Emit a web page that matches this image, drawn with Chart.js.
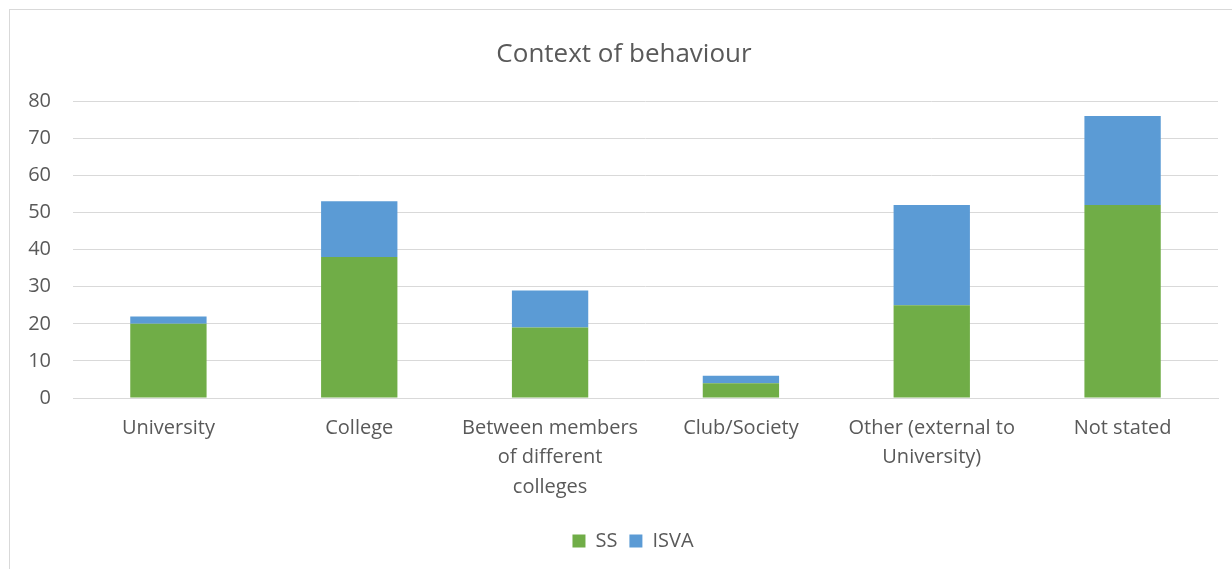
<!DOCTYPE html>
<html>
<head>
<meta charset="utf-8">
<script src="https://cdn.jsdelivr.net/npm/chart.js@4"></script>
<style>
  body { margin: 0; background: #fff; }
  #wrap { position: relative; width: 1232px; height: 569px; }
  #frame { position: absolute; left: 9px; top: 9px; width: 1240px; height: 600px; border: 1px solid #d9d9d9; }
  canvas { position: absolute; left: 0; top: 0; }
</style>
</head>
<body>
<div id="wrap">
  <div id="frame"></div>
  <canvas id="myChart" width="1232" height="569"></canvas>
</div>
<script>
const categories = [
  "University",
  "College",
  ["Between members", "of different", "colleges"],
  "Club/Society",
  ["Other (external to", "University)"],
  "Not stated"
];
const ssValues = [20, 38, 19, 4, 25, 52];
const isvaValues = [2, 15, 10, 2, 27, 24];
const yTicks = [0, 10, 20, 30, 40, 50, 60, 70, 80];

const textColor = "#595959";
const gridColor = "#d9d9d9";
const fontFamily = "'Open Sans', sans-serif";

// title and legend are centred on the outer frame, which runs past the plot's right edge
const centreOnFrame = {
  id: "centreOnFrame",
  afterLayout(chart) {
    chart.titleBlock.right += 30;
    chart.legend.right += 48;
  }
};

const ctx = document.getElementById("myChart").getContext("2d");
let chart = new Chart(ctx, {
  type: "bar",
  data: {
    labels: categories,
    datasets: [
      { label: "SS", data: ssValues, backgroundColor: "#70ad47" },
      { label: "ISVA", data: isvaValues, backgroundColor: "#5b9bd5" }
    ]
  },
  options: {
    responsive: false,
    animation: false,
    categoryPercentage: 1,
    barPercentage: 0.4,
    layout: { padding: { left: 0, right: 14, top: 0, bottom: 8 } },
    plugins: {
      title: {
        display: true,
        text: "Context of behaviour",
        color: textColor,
        font: { family: fontFamily, size: 26, weight: "normal" },
        padding: { top: 39, bottom: 31 }
      },
      legend: {
        position: "bottom",
        labels: {
          color: textColor,
          font: { family: fontFamily, size: 20 },
          boxWidth: 13,
          boxHeight: 13,
          padding: 12
        }
      },
      tooltip: { enabled: false }
    },
    scales: {
      x: {
        stacked: true,
        grid: { display: false },
        border: { color: gridColor },
        ticks: {
          color: textColor,
          font: { family: fontFamily, size: 20, lineHeight: 1.48 },
          maxRotation: 0,
          autoSkip: false,
          padding: 7
        },
        afterFit: scale => { scale.height = 121; }
      },
      y: {
        stacked: true,
        min: 0,
        max: 80,
        grid: { color: gridColor, drawTicks: false },
        border: { display: false },
        afterBuildTicks: scale => { scale.ticks = yTicks.map(v => ({ value: v })); },
        ticks: {
          color: textColor,
          font: { family: fontFamily, size: 20 },
          padding: 22
        },
        afterFit: scale => { scale.width = 73; }
      }
    }
  },
  plugins: [centreOnFrame]
});
</script>
</body>
</html>
